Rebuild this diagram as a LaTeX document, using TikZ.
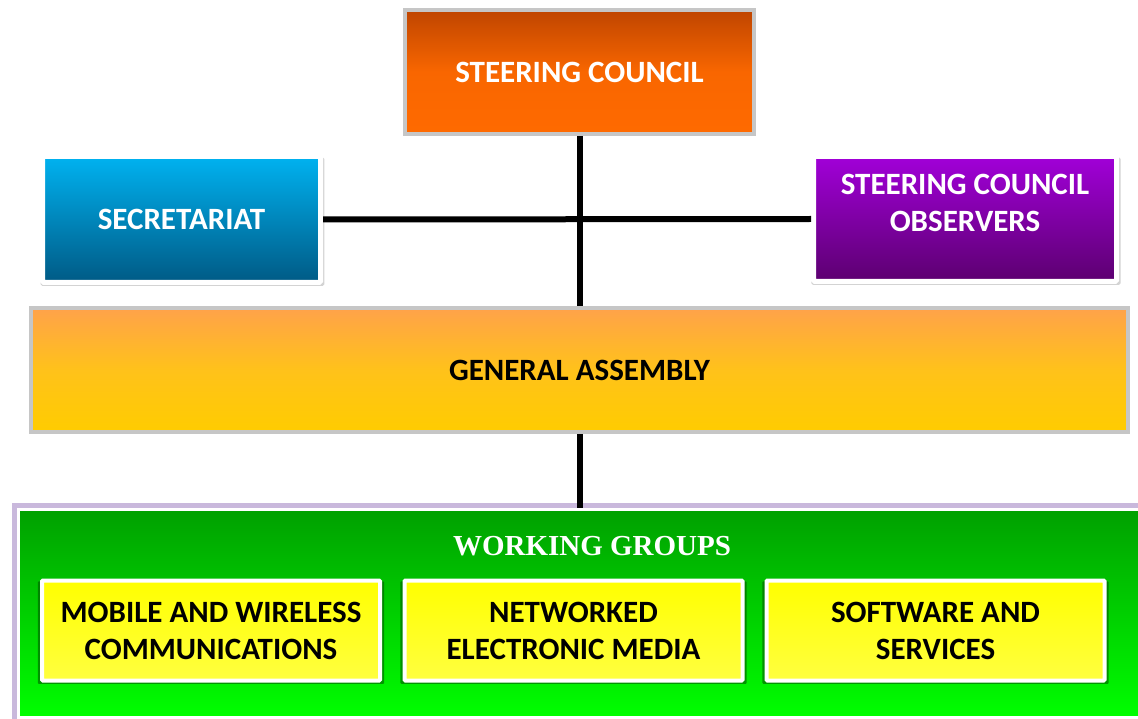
\documentclass[tikz,border=0pt]{standalone}
\usepackage{fontspec}
\setmainfont{Carlito}
\newfontfamily\wgfont{Liberation Serif}
\usepackage{tikz}
\usetikzlibrary{shadows}
\definecolor{orangeTop}{HTML}{BF4500}
\definecolor{orangeBot}{HTML}{FF6A00}
\definecolor{blueTop}{HTML}{00B2F0}
\definecolor{blueBot}{HTML}{005A85}
\definecolor{violetTop}{HTML}{A100D8}
\definecolor{violetBot}{HTML}{5C0070}
\definecolor{goldTop}{HTML}{FFA24A}
\definecolor{goldMid}{HTML}{FFC21A}
\definecolor{goldBot}{HTML}{FFCC00}
\definecolor{greenTop}{HTML}{00A000}
\definecolor{greenBot}{HTML}{00FF00}
\definecolor{lavender}{HTML}{BBA6D3}

\begin{document}
\begin{tikzpicture}[x=1pt,y=-1pt,font=\bfseries\fontsize{31}{37}\selectfont,
  bevel/.style={draw=gray!45,line width=4pt,align=center,
    drop shadow={shadow xshift=2pt,shadow yshift=-2pt,opacity=0.4}},
  card/.style={draw=white,line width=5pt,rounded corners=1.5pt,align=center,
    drop shadow={shadow xshift=1pt,shadow yshift=-2pt,shadow scale=1.02,opacity=0.35}},
  wgbox/.style={draw=white,line width=4pt,rounded corners=1pt,align=center,
    minimum width=338pt,minimum height=100pt,top color=yellow,bottom color=yellow!75!white,
    drop shadow={shadow xshift=0pt,shadow yshift=-2pt,shadow scale=1.025,
      fill=green!35!black,opacity=0.6}},
  link/.style={line width=6pt}]
  \useasboundingbox (0,0) rectangle (1138,719);

  \node [bevel,minimum width=349pt,minimum height=124pt,
         top color=orangeTop,bottom color=orangeBot,middle color=orangeBot!90!orangeTop,text=white] (council) at (579.5,72) {STEERING COUNCIL};
  \node [card,minimum width=278pt,minimum height=126pt,
         top color=blueTop,bottom color=blueBot,text=white] (secretariat) at (181.5,219.5) {SECRETARIAT};
  \node [card,minimum width=303pt,minimum height=125pt,
         top color=violetTop,bottom color=violetBot,
         label={[text=white,align=center,yshift=16pt]center:STEERING COUNCIL\\OBSERVERS}] (observers) at (965,219) {};
  \node [bevel,minimum width=1097pt,minimum height=124pt,
         top color=goldTop,bottom color=goldBot,middle color=goldMid] (assembly) at (579.5,370) {GENERAL ASSEMBLY};

  % working groups panel
  \node [draw=white,line width=3pt,minimum width=1131pt,minimum height=208pt,
         top color=greenTop,bottom color=greenBot,
         preaction={draw=lavender,line width=14pt,opacity=0.8}] (groups) at (584,613.5) {};
  \node [text=white,font=\wgfont\bfseries\fontsize{29}{34}\selectfont] (groupstitle) at (592,546) {WORKING GROUPS};
  \node [wgbox] (mobile) at (211,630.5) {MOBILE AND WIRELESS\\COMMUNICATIONS};
  \node [wgbox] (media) at (573.5,630.5) {NETWORKED\\ELECTRONIC MEDIA};
  \node [wgbox] (software) at (935.5,630.5) {SOFTWARE AND\\SERVICES};

  \draw [link] (secretariat.east) -- (observers.west);
  \draw [link] (council.south) -- (assembly.north);
  \draw [link] (assembly.south) -- (assembly.south |- groups.north);
\end{tikzpicture}
\end{document}
